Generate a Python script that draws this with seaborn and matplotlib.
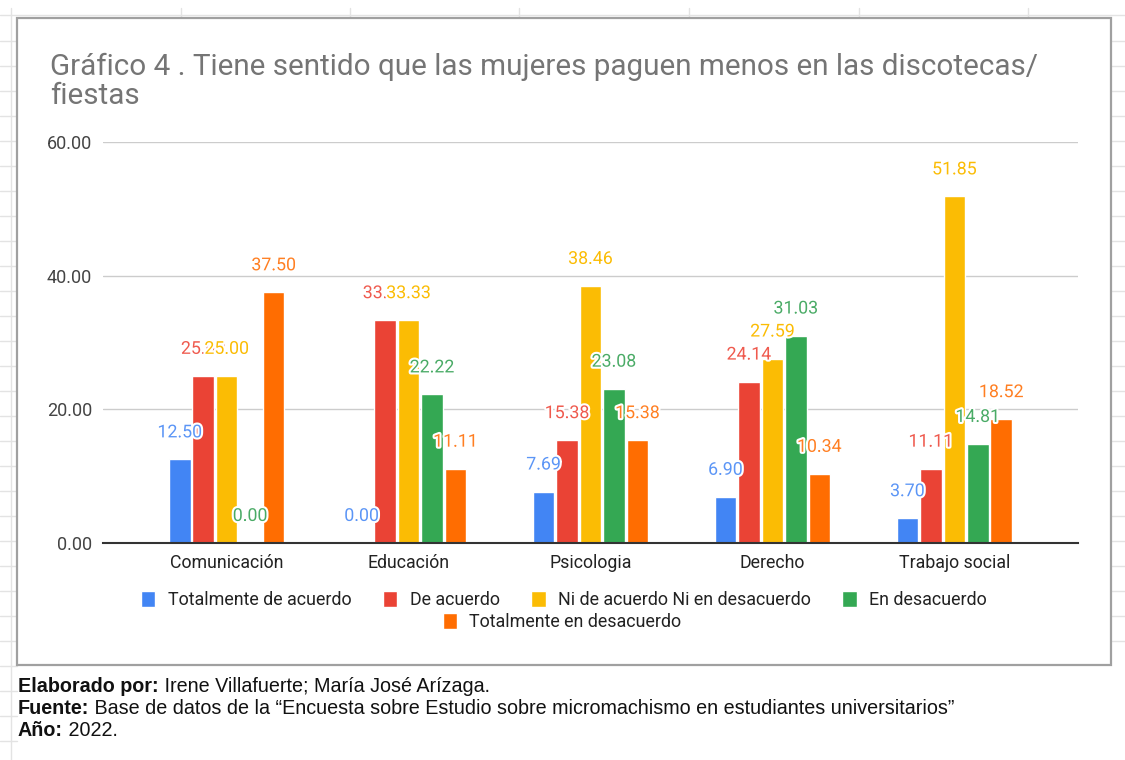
import pandas as pd
import matplotlib.pyplot as plt
import seaborn as sns
from matplotlib.patches import Rectangle
from matplotlib.lines import Line2D
import matplotlib.patheffects as pe

# Data
carreras = ["Comunicación", "Educación", "Psicologia", "Derecho", "Trabajo social"]
respuestas = ["Totalmente de acuerdo", "De acuerdo", "Ni de acuerdo Ni en desacuerdo",
              "En desacuerdo", "Totalmente en desacuerdo"]
tot_acuerdo = [12.50, 0.00, 7.69, 6.90, 3.70]
de_acuerdo = [25.00, 33.33, 15.38, 24.14, 11.11]
ni_ni = [25.00, 33.33, 38.46, 27.59, 51.85]
en_desacuerdo = [0.00, 22.22, 23.08, 31.03, 14.81]
tot_desacuerdo = [37.50, 11.11, 15.38, 10.34, 18.52]
yticks = [0, 20, 40, 60]

colores = ["#4285F4", "#EA4335", "#FBBC04", "#34A853", "#FF6D01"]
colores_label = ["#5b95f6", "#ef5a4e", "#fbbc04", "#4aab66", "#ff7f22"]

series = [tot_acuerdo, de_acuerdo, ni_ni, en_desacuerdo, tot_desacuerdo]
df = pd.DataFrame([(c, r, v[i]) for r, v in zip(respuestas, series)
                   for i, c in enumerate(carreras)],
                  columns=["carrera", "respuesta", "valor"])

W, H = 1125, 760
sns.set_style("white")
plt.rcParams['font.family'] = ['Roboto', 'DejaVu Sans']

fig = plt.figure(figsize=(W / 100, H / 100), dpi=100)


def fx(x):
    return x / W


def fy(y):
    return 1 - y / H


# spreadsheet grid in the background
gc = "#e3e3e3"
fig.add_artist(Line2D([0, 1], [fy(15), fy(15)], color=gc, lw=1, zorder=-3))
fig.add_artist(Line2D([fx(11), fx(11)], [0, fy(8)], color=gc, lw=1, zorder=-3))
for x in [181, 350, 519, 689, 859, 1028]:
    fig.add_artist(Line2D([fx(x), fx(x)], [fy(8), fy(20)], color=gc, lw=1, zorder=-3))
for y in range(41, 760, 25):
    fig.add_artist(Line2D([0, fx(17)], [fy(y), fy(y)], color=gc, lw=1, zorder=-3))
    if y < 665:
        fig.add_artist(Line2D([fx(1111), 1], [fy(y), fy(y)], color=gc, lw=1, zorder=-3))

# chart box
fig.add_artist(Rectangle((fx(17), fy(665)), fx(1111 - 17), (665 - 18) / H,
                         facecolor="white", edgecolor="#a0a0a0", lw=1.6, zorder=-1))

ax = fig.add_axes([fx(103), fy(543), fx(1078 - 103), (543 - 142) / H])
ax.set_facecolor("none")

sns.barplot(data=df, x="carrera", y="valor", hue="respuesta", hue_order=respuestas,
            palette=colores, saturation=1, width=0.645, gap=0.08,
            errorbar=None, ax=ax)

ax.set_ylim(0, 60)
ax.set_xlim(-0.68, 4.68)
ax.set_yticks(yticks)
ax.set_yticklabels([f"{t:.2f}" for t in yticks], fontsize=13, color="#444444")
ax.tick_params(axis="both", length=0)
ax.tick_params(axis="y", pad=8)
ax.tick_params(axis="x", pad=8, labelsize=12.8, labelcolor="#222222")
ax.set_xlabel("")
ax.set_ylabel("")
ax.yaxis.grid(True, color="#cccccc", lw=1)
ax.set_axisbelow(True)
for s in ["top", "right", "left"]:
    ax.spines[s].set_visible(False)
ax.spines["bottom"].set_color("#333333")
ax.spines["bottom"].set_linewidth(1.5)

# value labels
for cont, lc in zip(ax.containers, colores_label):
    for bar in cont:
        h = bar.get_height()
        ax.annotate(f"{h:.2f}", (bar.get_x() + bar.get_width() / 2, h),
                    xytext=(0, 19.5), textcoords="offset points",
                    ha="center", va="center", fontsize=12.8, color=lc,
                    path_effects=[pe.withStroke(linewidth=3, foreground="white")])

handles, labels = ax.get_legend_handles_labels()
ax.legend_.remove()
leg_kw = dict(frameon=False, fontsize=12.9, handlelength=0.8, handleheight=0.95,
              handletextpad=0.7, columnspacing=1.75, labelcolor="#222222")
fig.legend(handles[:4], labels[:4], ncol=4, loc="center",
           bbox_to_anchor=(fx(564), fy(600)), **leg_kw)
fig.legend(handles[4:], labels[4:], ncol=1, loc="center",
           bbox_to_anchor=(fx(562), fy(622)), **leg_kw)

# title
fig.text(fx(50), fy(53), "Gráfico 4 . Tiene sentido que las mujeres paguen menos en las discotecas/\nfiestas",
         ha="left", va="top", fontsize=21.3, color="#757575", linespacing=1.02)

# footer
renderer = fig.canvas.get_renderer()
foot = [("Elaborado por:", " Irene Villafuerte; María José Arízaga."),
        ("Fuente:", " Base de datos de la “Encuesta sobre Estudio sobre micromachismo en estudiantes universitarios”"),
        ("Año:", " 2022.")]
for i, (b, t) in enumerate(foot):
    y = fy(686 + 22 * i)
    tb = fig.text(fx(18), y, b, ha="left", va="center", fontsize=14.2,
                  fontweight="bold", color="#111111", family="Liberation Sans")
    bb = tb.get_window_extent(renderer)
    fig.text(bb.x1 / W, y, t, ha="left", va="center", fontsize=14.2,
             color="#111111", family="Liberation Sans")

fig.savefig("out.png", dpi=100)
